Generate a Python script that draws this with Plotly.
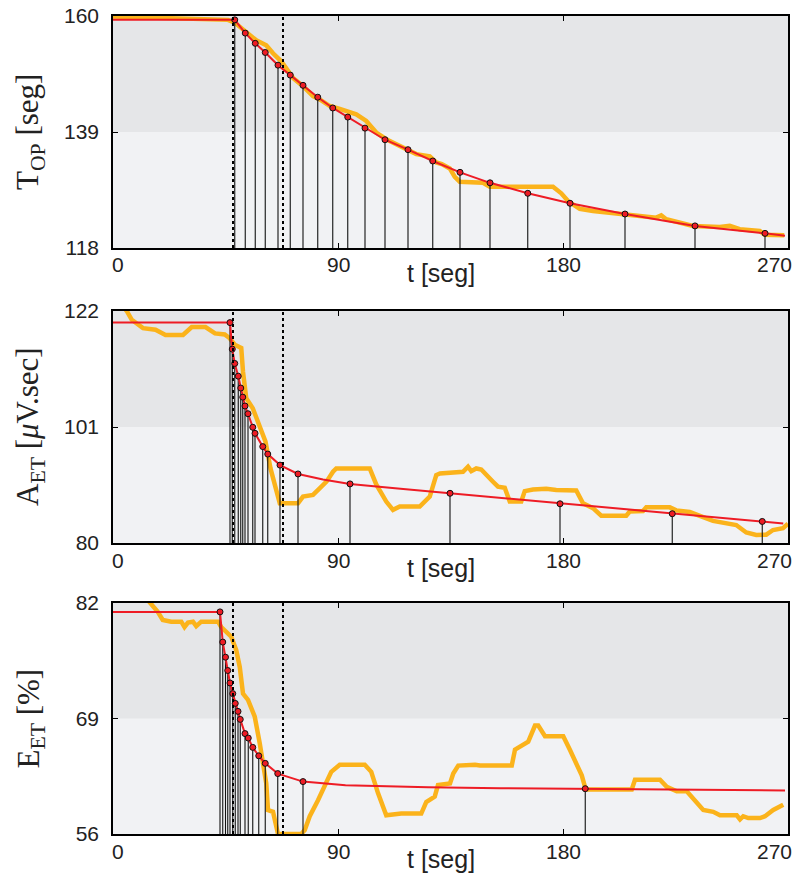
import plotly.graph_objects as go

# ---------------- data ----------------
x_ticks = [0, 90, 180, 270]
window_t = [48, 68]

# Panel 1: T_OP [seg]
top_range = [118, 160]
top_split = 139
top_ticks = [118, 139, 160]
top_obs_t = [0, 10, 21, 34, 46, 48.7, 53.3, 57.3, 61.3, 64, 67.3, 69.3, 72, 76, 80, 82.7, 86.7,
             90.7, 94, 97.3, 101.3, 105.3, 109.3, 114.7, 121.3, 126.7, 129.3, 131.5, 134.7, 136.7,
             138.7, 148, 150.7, 176, 179.3, 182, 186.7, 192, 202.7, 210.7, 217.3, 219.3, 221.3,
             232, 242.7, 246.7, 250.7, 258.7, 260.7, 268.5]
top_obs_v = [159.9, 159.8, 159.6, 159.5, 159.3, 158.8, 157.2, 155.6, 154.7, 153.25, 151.8, 150.6,
             148.8, 147.3, 145.5, 144.9, 143.7, 143.2, 142.8, 142.2, 141.0, 138.9, 137.7, 136.5,
             135.0, 134.6, 133.5, 133.2, 132.4, 130.9, 130.0, 129.8, 129.1, 129.1, 127.9, 126.5,
             125.1, 124.7, 124.1, 123.8, 123.5, 123.9, 123.2, 122.0, 121.8, 122.0, 121.4, 121.1,
             120.4, 120.3]
top_samp_t = [48.7, 52.9, 56.9, 60.9, 66.0, 70.9, 76.0, 81.9, 87.9, 93.9, 100.8, 108.8, 118.0,
              127.9, 138.8, 150.8, 165.9, 182.8, 204.8, 232.8, 260.8]
top_samp_v = [159.3, 156.9, 155.05, 153.4, 151.1, 149.3, 147.45, 145.3, 143.35, 141.7, 139.7,
              137.6, 135.8, 133.75, 131.7, 129.8, 127.9, 126.1, 124.15, 122.0, 120.65]
top_fit_t = [0, 48.7, 52.9, 56.9, 60.9, 66.0, 70.9, 76.0, 81.9, 87.9, 93.9, 100.8, 108.8, 118.0,
             127.9, 138.8, 150.8, 165.9, 182.8, 204.8, 232.8, 260.8, 268.8]
top_fit_v = [159.3, 159.3, 156.9, 155.05, 153.4, 151.1, 149.3, 147.45, 145.3, 143.35, 141.7,
             139.7, 137.6, 135.8, 133.75, 131.7, 129.8, 127.9, 126.1, 124.15, 122.0, 120.65, 120.2]

# Panel 2: A_ET [uV.sec]
aet_range = [80, 122]
aet_split = 101
aet_ticks = [80, 101, 122]
aet_obs_t = [1, 5.5, 7.5, 12, 17, 21, 28, 31.5, 37, 40.8, 44.7, 46.7, 48.7, 51.3, 52, 53.3, 55.9,
             58.5, 61, 63, 66.7, 74, 76, 80, 85.4, 88, 89.3, 102.7, 105.3, 109.3, 112, 114.7, 122.7,
             126.7, 129.3, 130.8, 140, 142, 143.3, 145.3, 147.3, 152, 154, 156.7, 158.7, 163.3,
             164.7, 168, 173.3, 177.3, 185.3, 188, 192, 195.3, 205.3, 206.7, 212, 213.3, 222.7,
             225.3, 230.7, 240, 249.3, 253.3, 257.3, 261.3, 264, 268, 270]
aet_obs_v = [124.5, 122, 120.4, 118.9, 118.6, 117.65, 117.65, 119.1, 119.1, 117.95, 117.75, 117.05,
             115.9, 115.3, 111.0, 106.2, 104.4, 101.4, 98.35, 93.5, 87.2, 87.2, 88.4, 88.7, 91.1,
             92.9, 93.5, 93.5, 90.6, 87.5, 86.0, 86.6, 86.6, 88.4, 92.3, 92.6, 92.9, 93.8, 93.0,
             93.5, 93.3, 91.1, 90.2, 90.0, 87.5, 87.5, 89.4, 89.7, 89.8, 89.6, 89.5, 87.2, 86.3,
             84.95, 84.95, 85.7, 85.8, 86.45, 86.45, 85.9, 85.6, 84.0, 83.25, 81.9, 81.45, 81.5,
             82.35, 82.7, 83.5]
aet_samp_t = [46.8, 47.7, 48.7, 50.1, 51.1, 51.9, 52.8, 54.0, 55.9, 56.8, 59.9, 61.9, 66.8, 74.0,
              94.8, 134.8, 178.8, 223.7, 259.7]
aet_samp_v = [119.9, 115.1, 112.5, 110.2, 108.05, 106.4, 104.8, 103.4, 100.95, 99.85, 97.45, 96.1,
              94.1, 92.5, 90.7, 89.0, 87.1, 85.3, 83.9]
aet_fit_t = [0, 46.8, 47.7, 48.7, 50.1, 51.1, 51.9, 52.8, 54.0, 55.9, 56.8, 59.9, 61.9, 66.8,
             74.0, 84.0, 94.8, 115.0, 134.8, 178.8, 223.7, 259.7, 268.1]
aet_fit_v = [119.9, 119.9, 115.1, 112.5, 110.2, 108.05, 106.4, 104.8, 103.4, 100.95, 99.85, 97.45,
             96.1, 94.1, 92.5, 91.5, 90.7, 89.8, 89.0, 87.1, 85.3, 83.9, 83.55]

# Panel 3: E_ET [%]
eet_range = [56, 82]
eet_split = 69
eet_ticks = [56, 69, 82]
eet_obs_t = [8, 14.8, 17.9, 19.9, 23.3, 27.3, 28.6, 30, 32, 33.3, 35.3, 42, 43.3, 47.3, 49.3,
             50.7, 52, 54, 56.7, 58.7, 61.3, 62, 64, 66, 75.3, 76.7, 78.7, 82, 84, 87.3, 90.7,
             100.7, 103.3, 106, 109.3, 115.3, 123.3, 125.3, 128.7, 130, 134.8, 136.1, 138.1,
             142.8, 144.8, 146.8, 159.5, 160.8, 163.5, 166.1, 168.8, 170.1, 172.8, 180.1, 182.8,
             184.8, 187.5, 189.1, 194.8, 205.5, 207.5, 208.8, 218.8, 221.5, 225.5, 229.5, 232.1,
             236.1, 240.1, 242.8, 249.5, 250.8, 252.1, 254.1, 258.8, 260.8, 264.1, 268.1]
eet_obs_v = [84.3, 82.0, 81.0, 80.1, 79.9, 79.9, 79.3, 79.8, 79.9, 79.4, 79.9, 79.9, 79.3, 78.2,
             76.7, 74.8, 71.8, 71.1, 69.2, 66.2, 61.7, 58.7, 58.5, 56.0, 56.0, 56.45, 58.0, 59.8,
             61.0, 63.0, 63.8, 63.8, 63.0, 60.6, 58.1, 58.3, 58.3, 59.6, 60.2, 61.5, 61.7, 62.8,
             63.7, 63.8, 63.8, 63.7, 63.7, 65.5, 65.9, 66.4, 68.2, 68.2, 67.0, 67.0, 65.45, 64.1,
             62.6, 61.0, 61.0, 60.9, 61.0, 62.1, 62.1, 61.3, 60.8, 60.8, 60.0, 58.7, 58.5, 58.1,
             58.1, 57.65, 58.0, 57.8, 57.8, 58.0, 58.7, 59.3]
eet_samp_t = [42.8, 43.9, 45.0, 45.9, 46.8, 47.9, 48.9, 50.0, 50.9, 52.8, 54.1, 55.9, 58.3, 60.9,
              65.9, 76.0, 188.9]
eet_samp_v = [81.0, 77.6, 75.9, 74.4, 73.0, 71.8, 70.7, 69.8, 68.9, 67.3, 66.8, 65.75, 64.8, 63.95,
              62.8, 61.9, 61.1]
eet_fit_t = [0, 42.8, 43.9, 45.0, 45.9, 46.8, 47.9, 48.9, 50.0, 50.9, 52.8, 54.1, 55.9, 58.3, 60.9,
             65.9, 76.0, 93.0, 126.0, 155.0, 188.9, 268.8]
eet_fit_v = [81.0, 81.0, 77.6, 75.9, 74.4, 73.0, 71.8, 70.7, 69.8, 68.9, 67.3, 66.8, 65.75, 64.8,
             63.95, 62.8, 61.9, 61.5, 61.25, 61.15, 61.1, 60.9]

y_titles = ["T<sub>OP</sub> [seg]", "A<sub>ET</sub> [<i>μ</i>V.sec]", "E<sub>ET</sub> [%]"]
x_title = "t [seg]"

# ---------------- styling ----------------
ORANGE = "#FBB31B"
RED = "#EE1C25"
DARK_BG = "#E5E6E8"
LIGHT_BG = "#F1F2F4"
SANS = "Liberation Sans, Arial, sans-serif"
SERIF = "Liberation Serif, Times New Roman, serif"

panels = [
    dict(rng=top_range, split=top_split, ticks=top_ticks, ot=top_obs_t, ov=top_obs_v,
         st=top_samp_t, sv=top_samp_v, ft=top_fit_t, fv=top_fit_v),
    dict(rng=aet_range, split=aet_split, ticks=aet_ticks, ot=aet_obs_t, ov=aet_obs_v,
         st=aet_samp_t, sv=aet_samp_v, ft=aet_fit_t, fv=aet_fit_v),
    dict(rng=eet_range, split=eet_split, ticks=eet_ticks, ot=eet_obs_t, ov=eet_obs_v,
         st=eet_samp_t, sv=eet_samp_v, ft=eet_fit_t, fv=eet_fit_v),
]

H = 877.0
W = 795.0
x_dom = [113 / W, 788 / W]
y_doms = [[1 - 248 / H, 1 - 16 / H], [1 - 543 / H, 1 - 311 / H], [1 - 834 / H, 1 - 603 / H]]

fig = go.Figure()
shapes = []
annotations = []
layout = {}

for i, p in enumerate(panels):
    n = "" if i == 0 else str(i + 1)
    xa, ya = "x" + n, "y" + n
    ymin = p["rng"][0]

    # observed (orange)
    fig.add_trace(go.Scatter(x=p["ot"], y=p["ov"], xaxis=xa, yaxis=ya, mode="lines",
                             line=dict(color=ORANGE, width=4.5), hoverinfo="skip",
                             showlegend=False))
    # stems
    sx, sy = [], []
    for t, v in zip(p["st"], p["sv"]):
        sx += [t, t, None]
        sy += [v, ymin, None]
    fig.add_trace(go.Scatter(x=sx, y=sy, xaxis=xa, yaxis=ya, mode="lines",
                             line=dict(color="#111111", width=1.1), hoverinfo="skip",
                             showlegend=False))
    # fit (red)
    fig.add_trace(go.Scatter(x=p["ft"], y=p["fv"], xaxis=xa, yaxis=ya, mode="lines",
                             line=dict(color=RED, width=2), hoverinfo="skip", showlegend=False))
    # sample markers
    fig.add_trace(go.Scatter(x=p["st"], y=p["sv"], xaxis=xa, yaxis=ya, mode="markers",
                             marker=dict(color=RED, size=6, line=dict(color="#111", width=1)),
                             hoverinfo="skip", showlegend=False))

    # background band
    shapes.append(dict(type="rect", xref=xa + " domain", yref=ya, x0=0, x1=1,
                       y0=p["split"], y1=p["rng"][1], fillcolor=DARK_BG, line=dict(width=0),
                       layer="below"))
    # window dotted lines
    for wt in window_t:
        shapes.append(dict(type="line", xref=xa, yref=ya + " domain", x0=wt, x1=wt, y0=0, y1=1,
                           line=dict(color="black", width=2, dash="dot"), layer="above"))

    layout["xaxis" + n] = dict(domain=x_dom, range=[0, 270], anchor=ya, showline=True,
                               linecolor="black", linewidth=1.5, mirror="ticks", ticks="inside",
                               ticklen=5, tickcolor="black", tickwidth=1, tickvals=x_ticks,
                               showticklabels=False, showgrid=False, zeroline=False,
                               automargin=False)
    layout["yaxis" + n] = dict(domain=y_doms[i], range=p["rng"], anchor=xa, showline=True,
                               linecolor="black", linewidth=1.5, mirror="ticks", ticks="inside",
                               ticklen=5, tickcolor="black", tickwidth=1, tickvals=p["ticks"],
                               ticktext=[str(v) for v in p["ticks"]], ticklabelstandoff=8,
                               tickfont=dict(family=SANS, size=21, color="#222"),
                               showgrid=False, zeroline=False, automargin=False)

    # x tick labels
    shifts = {0: 5, 90: 0, 180: 0, 270: -14}
    for xt in x_ticks:
        annotations.append(dict(xref=xa, yref=ya + " domain", x=xt, y=0, text=str(xt),
                                showarrow=False, xanchor="center", yanchor="middle",
                                xshift=shifts[xt], yshift=-17,
                                font=dict(family=SANS, size=21, color="#222")))
    # x title
    annotations.append(dict(xref=xa + " domain", yref=ya + " domain", x=0.486, y=0, text=x_title,
                            showarrow=False, xanchor="center", yanchor="middle", yshift=-25,
                            font=dict(family=SANS, size=25, color="#222")))
    # y title
    annotations.append(dict(xref="paper", yref=ya + " domain", x=30 / W, y=0.5, text=y_titles[i],
                            showarrow=False, xanchor="center", yanchor="middle", textangle=-90,
                            font=dict(family=SERIF, size=31, color="#222")))

fig.update_layout(width=795, height=877, margin=dict(l=0, r=0, t=0, b=0, pad=0),
                  paper_bgcolor="white", plot_bgcolor=LIGHT_BG, shapes=shapes,
                  annotations=annotations, **layout)

fig.write_html("out.html")
